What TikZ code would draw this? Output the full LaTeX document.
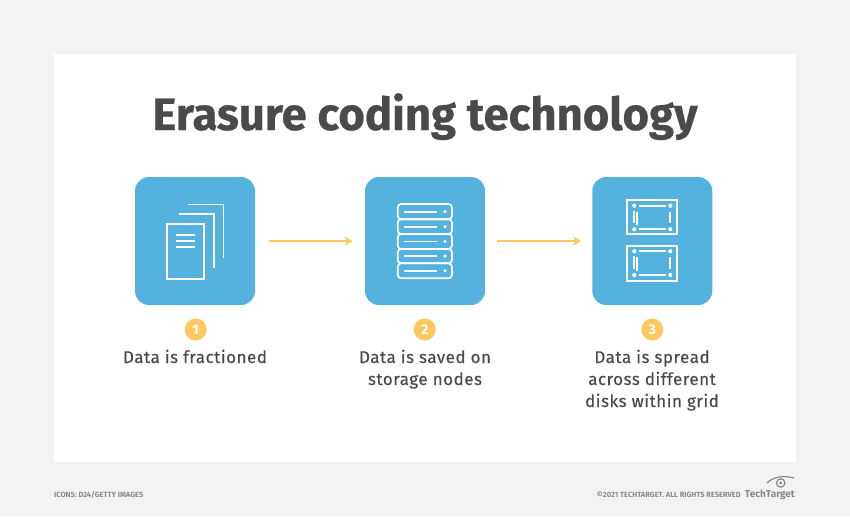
\documentclass[tikz,border=0pt]{standalone}
\usepackage{fontspec}
\usetikzlibrary{arrows.meta}
\setmainfont{Fira Sans}
\newfontfamily\titlefont[BoldFeatures={FakeBold=0.5}]{Fira Sans}
\newfontfamily\labelfont[LetterSpace=3,FakeBold=0.25]{Fira Sans}
\newfontfamily\digitfont{Fira Sans}
\definecolor{bgc}{HTML}{F3F3F3}
\definecolor{tilec}{HTML}{55B2DE}
\definecolor{amber}{HTML}{FFC85F}
\definecolor{inkc}{HTML}{4A4A4A}
\definecolor{footc}{HTML}{8A8A8A}
\tikzset{
  tile/.style={draw=none,fill=tilec,rounded corners=14pt,minimum width=120pt,minimum height=128pt,inner sep=0pt},
  badge/.style={circle,fill=amber,text=white,minimum size=22pt,inner sep=0pt,font=\digitfont\bfseries\fontsize{14}{14}\selectfont},
  steptext/.style={anchor=base,align=center,text=inkc,font=\labelfont\fontsize{17}{22}\selectfont},
  icon/.style={draw=white,line width=1.7pt},
  flow/.style={draw=amber,line width=2pt,-{Stealth[length=8pt,width=9pt,inset=2.5pt]}},
  foot/.style={text=footc,inner sep=0pt,font=\bfseries\fontsize{7.5}{8}\selectfont},
}
\begin{document}
\begin{tikzpicture}[x=1pt,y=-1pt]
\useasboundingbox (0,0) rectangle (850,516);
\fill[bgc] (0,0) rectangle (850,516);
\fill[white] (54,54) rectangle (796,462);
\node[anchor=base,text=inkc,inner sep=0pt,font=\titlefont\bfseries\fontsize{45.4}{46}\selectfont] (title) at (425,130) {Erasure coding technology};
\node[tile] (box1) at (195,241) {};
\node[tile] (box2) at (425,241) {};
\node[tile] (box3) at (652.3,241) {};
\draw[flow,shorten <=14pt,shorten >=12pt] (box1) -- (box2);
\draw[flow,shorten <=12pt,shorten >=11pt] (box2) -- (box3);
% icon 1
\draw[icon] (167.3,224) rectangle (203.7,278.7);
\draw[icon] (178.5,214) -- (214,214) -- (214,268);
\draw[icon] (187.5,204.5) -- (223.5,204.5) -- (223.5,258);
\foreach \yy in {235,241,247} \draw[icon] (176,\yy) -- (195,\yy);
% icon 2
\foreach \yy/\yb in {204/219.3,219.3/234,234/249,249/263.3,263.3/278.3} {
  \draw[icon,rounded corners=3.5pt] (397.7,\yy) rectangle (452,\yb);
  \draw[icon] (404,{(\yy+\yb)/2}) -- (437,{(\yy+\yb)/2});
  \fill[white] (445,{(\yy+\yb)/2}) circle (1.7pt);
}
% icon 3
\foreach \ya/\yb/\yc/\yd in {200/234.3/205.7/229.3,245.7/280.7/251.3/275} {
  \draw[icon] (627.3,\ya) rectangle (677.3,\yb);
  \foreach \xx in {634.3,670.3} \foreach \yy in {\yc,\yd} \fill[white] (\xx,\yy) circle (2.1pt);
  \draw[icon] (639,\yc) -- (666,\yc);
  \draw[icon] (639,\yd) -- (666,\yd);
  \draw[icon] (670.3,{\yc+6}) -- (670.3,{\yd-6});
  \draw[icon] (634.2,{\yc+5}) -- (634.2,{\yd-6});
  \draw[icon] (636.8,{\yc+6}) -- (636.8,{\yd-4});
}
\node[badge] (n1) at (195.7,329.5) {1};
\node[badge] (n2) at (424.7,329.5) {2};
\node[badge] (n3) at (652.3,329.5) {3};
\node[steptext] (t1) at (195,363) {Data is fractioned};
\node[steptext] (t2) at (425,385) {Data is saved on\\storage nodes};
\node[steptext] (t3) at (652,407) {Data is spread\\across different\\disks within grid};
\node[foot,anchor=base west] (f1) at (54,497) {ICONS: D24/GETTY IMAGES};
\node[foot,anchor=base east] (f2) at (741,497) {©2021 TECHTARGET. ALL RIGHTS RESERVED};
\node[anchor=base east,inner sep=0pt,text=footc,font=\bfseries\fontsize{10}{10}\selectfont] (logo) at (795,497.5) {TechTarget};
\draw[footc,line width=1.2pt] (767,483) .. controls (773,477) and (783,475) .. (794,478);
\draw[footc,line width=1.2pt] (780.7,483) circle (4.2pt);
\fill[footc] (780.7,483) circle (1.7pt);
\end{tikzpicture}
\end{document}
